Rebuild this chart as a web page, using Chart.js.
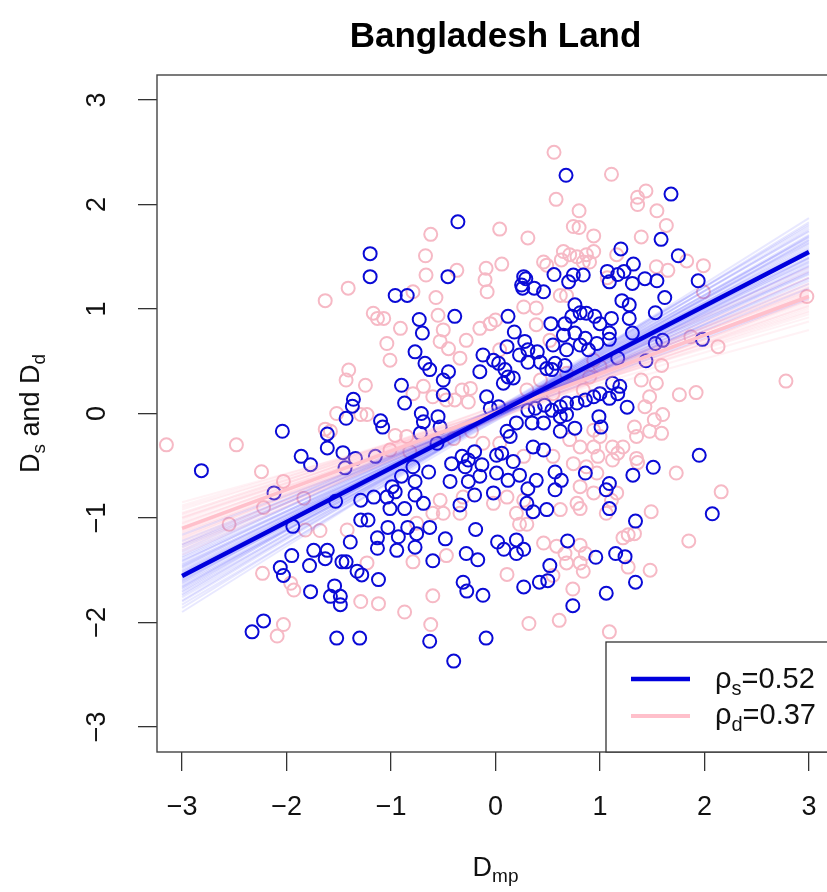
<!DOCTYPE html>
<html><head><meta charset="utf-8">
<script src="https://cdn.jsdelivr.net/npm/chart.js@4/dist/chart.umd.min.js"></script>
<style>
html,body{margin:0;padding:0;overflow:hidden;background:#fff;width:827px;height:892px}
#wrap{position:absolute;left:0;top:0;width:845px;height:892px}
</style>
</head><body><div id="wrap"><canvas id="c" width="845" height="892"></canvas></div>
<script>
// ---------- data ----------
const chartTitle = 'Bangladesh Land';
const xTicks = [-3,-2,-1,0,1,2,3];
const yTicks = [-3,-2,-1,0,1,2,3];
const xRange = [-3.24, 3.24];
const yRange = [-3.24, 3.24];
const lineX = [-3, 3];
const blueLine = [-1.555, 1.545];
const pinkLine = [-1.10, 1.12];
const legendLabels = [['ρ','s','=0.52'],['ρ','d','=0.37']];

const bluePts = [
[-1.20,1.53],[-1.20,1.31],
[0.675,2.28],[-0.36,1.835],[-0.455,1.31],[-0.96,1.13],[-0.845,1.13],[0.27,1.31],[0.29,1.29],[0.25,1.23],[0.26,1.20],[0.37,1.20],[0.46,1.165],[0.56,1.33],[0.70,1.26],[0.745,1.325],[0.84,1.325],[1.07,1.36],
[1.68,2.10],[1.585,1.667],[1.20,1.575],[1.75,1.51],[1.94,1.27],[1.17,1.33],[1.23,1.36],[1.32,1.43],[1.09,1.26],[1.31,1.245],[1.43,1.29],[1.545,1.27],[1.21,1.08],[1.62,1.11],
[-1.36,0.136],[-1.37,0.07],[-1.43,-0.046],[-2.04,-0.17],[-1.61,-0.196],[-1.61,-0.33],[-1.46,-0.375],[-1.86,-0.41],[-1.77,-0.49],[-1.34,-0.43],[-1.44,-0.52],[-2.815,-0.547],[-1.15,-0.41],[-2.12,-0.76],[-1.53,-0.84],[-1.29,-0.83],[-1.165,-0.80],[-1.29,-1.02],[-1.22,-1.02],
[-1.94,-1.08],[-1.13,-1.19],[-1.13,-1.29],[-1.39,-1.23],[-1.95,-1.36],[-2.06,-1.475],[-2.03,-1.55],[-1.74,-1.31],[-1.61,-1.31],[-1.63,-1.39],[-1.78,-1.456],[-1.47,-1.42],[-1.43,-1.42],[-1.325,-1.51],[-1.28,-1.545],[-1.12,-1.59],[-1.77,-1.705],[-1.54,-1.65],[-1.58,-1.75],[-1.485,-1.75],[-1.485,-1.83],[-2.22,-1.985],[-2.33,-2.09],[-1.52,-2.15],[-1.30,-2.15],
[-1.03,-1.09],[-0.93,-1.18],[-0.84,-1.09],[-0.755,-1.15],[-0.63,-1.09],[-0.945,-1.31],[-0.77,-1.28],[-0.48,-1.20],[-0.60,-1.41],[-0.19,-1.11],[-0.28,-1.34],[-0.17,-1.40],[0.02,-1.23],[0.08,-1.30],[0.20,-1.21],[0.20,-1.34],[0.27,-1.30],[0.69,-1.22],[0.96,-1.376],[0.52,-1.456],[0.42,-1.615],[0.50,-1.60],[0.27,-1.66],[-0.31,-1.615],[-0.275,-1.70],[-0.12,-1.74],[-0.63,-2.18],[-0.09,-2.15],[-0.40,-2.37],[0.74,-1.84],[1.06,-1.72],
[1.34,-1.03],[1.15,-1.34],[1.24,-1.37],[1.34,-1.615],
[1.28,1.04],[1.28,0.91],[1.11,0.91],[1.53,0.965],[1.31,0.77],[1.09,0.77],[1.09,0.71],[1.53,0.67],[1.60,0.70],[1.98,0.71],[1.17,0.53],[1.44,0.505],[1.12,0.29],[1.19,0.26],[1.17,0.19],[1.09,0.145],[1.26,0.06],[1.95,-0.40],[1.51,-0.515],[1.315,-0.59],[1.09,-0.67],[1.06,-0.73],[1.09,-0.91],[2.075,-0.96],
[-0.73,0.90],[-0.39,0.93],[-0.70,0.77],[0.12,0.93],[0.18,0.78],[0.53,0.86],[0.665,0.86],[0.73,0.93],[0.81,0.965],[0.87,0.96],[0.95,0.93],[1.0,0.86],[0.76,1.04],[0.65,0.75],[0.76,0.77],[0.86,0.72],[0.81,0.655],[0.89,0.61],[0.97,0.67],[0.28,0.69],[0.40,0.59],[0.55,0.655],[0.68,0.61],[0.31,0.49],[0.43,0.49],[0.54,0.42],[0.57,0.48],[0.665,0.46],[-0.77,0.59],[-0.675,0.48],[-0.63,0.42],[-0.45,0.40],[-0.50,0.32],[-0.90,0.27],[-0.87,0.10],[-0.50,0.18],[-0.12,0.56],[-0.02,0.51],[0.03,0.48],[-0.15,0.40],[0.09,0.42],[0.12,0.35],[0.17,0.34],[0.075,0.29],[0.11,0.64],[0.23,0.56],[0.31,0.61],[0.49,0.43],[-0.085,0.16],[-0.05,0.05],[0.03,0.065],[0.31,0.03],[0.38,0.05],[0.47,0.08],[0.54,0.03],[0.62,0.065],[0.68,0.10],[0.78,0.10],[0.86,0.13],[0.94,0.16],[1.0,0.19],[0.62,-0.03],[0.68,-0.01],[0.76,-0.14],[0.62,-0.17],[0.46,-0.09],[0.35,-0.09],[0.20,-0.09],[0.11,-0.17],[0.14,-0.22],[0.99,-0.03],[1.01,-0.13],[-1.10,-0.07],[-1.08,-0.13],[-0.71,0.0],[-0.69,-0.08],[-0.55,-0.03],[-0.53,-0.13],[-0.72,-0.19],[-0.56,-0.285],[0.36,-0.32],[0.46,-0.35],[-0.42,-0.48],[-0.32,-0.41],[-0.26,-0.445],[-0.29,-0.51],[-0.20,-0.365],[-0.13,-0.49],[-0.15,-0.60],[0.01,-0.40],[0.06,-0.38],[0.17,-0.46],[0.01,-0.57],[0.12,-0.64],[0.23,-0.59],[0.31,-0.72],[0.39,-0.64],[0.57,-0.56],[0.63,-0.64],[0.57,-0.73],[0.86,-0.57],[-0.435,-0.65],[-0.26,-0.65],[-0.20,-0.78],[-0.02,-0.76],[-0.96,-0.75],[-0.77,-0.78],[-0.69,-0.86],[-0.64,-0.56],[-0.79,-0.51],[-0.90,-0.60],[-0.77,-0.65],[-0.99,-0.70],[-1.04,-0.80],[-1.01,-0.91],[-0.87,-0.91],[-0.34,-0.875],[0.30,-0.86],[0.49,-0.92],[0.36,-0.94]
];

const pinkPts = [
[-1.41,1.20],[-1.63,1.08],
[0.56,2.50],[0.58,2.05],[0.80,1.94],[0.745,1.79],[0.80,1.78],[0.94,1.70],[-0.62,1.715],[0.04,1.765],[0.31,1.68],[-0.67,1.51],[-0.665,1.325],[-0.37,1.37],[-0.09,1.39],[0.06,1.43],[-0.10,1.28],[-0.08,1.165],[-0.57,1.11],[-0.79,1.165],[0.65,1.55],[0.71,1.52],[0.78,1.50],[0.87,1.52],[0.94,1.55],[0.84,1.45],[0.90,1.45],[0.46,1.45],[0.49,1.42],[0.63,1.47],[0.68,1.13],[0.62,1.13],
[1.11,2.29],[1.44,2.13],[1.36,2.07],[1.36,2.00],[1.545,1.94],[1.635,1.80],[1.395,1.69],[1.83,1.46],[1.99,1.415],[1.54,1.405],[1.65,1.37],[1.99,1.165],[2.98,1.12],[1.16,1.52],[1.07,1.30],
[-1.17,0.96],[-1.13,0.91],[-1.405,0.416],[-1.43,0.32],[-1.245,0.27],[-1.52,0.0],[-1.29,-0.01],[-1.23,-0.01],[-3.15,-0.30],[-2.48,-0.30],[-1.63,-0.15],[-1.58,-0.17],[-2.24,-0.557],[-2.03,-0.65],[-2.22,-0.90],[-1.835,-0.81],[-2.55,-1.06],
[-1.82,-1.115],[-1.68,-1.12],[-1.42,-1.115],[-2.23,-1.53],[-1.96,-1.625],[-1.93,-1.69],[-1.23,-1.43],[-1.29,-1.80],[-1.12,-1.82],[-2.03,-2.02],[-2.09,-2.13],
[-0.79,-1.42],[-0.47,-1.36],[0.23,-1.06],[0.30,-1.06],[0.46,-1.24],[0.585,-1.27],[0.81,-1.26],[0.86,-1.34],[0.81,-1.43],[0.84,-1.51],[0.665,-1.34],[0.68,-1.43],[0.11,-1.54],[0.55,-1.55],[-0.60,-1.745],[-0.87,-1.90],[-0.62,-2.02],[0.32,-2.01],[0.61,-1.98],[0.74,-1.68],
[1.22,-1.19],[1.27,-1.16],[1.33,-1.15],[1.85,-1.22],[1.27,-1.47],[1.48,-1.50],[1.09,-2.09],
[2.13,0.64],[1.87,0.735],[1.59,0.46],[2.78,0.31],[1.395,0.32],[1.54,0.29],[1.76,0.18],[1.92,0.20],[1.475,0.16],[1.43,0.065],[1.60,-0.01],[1.52,-0.06],[1.33,-0.13],[1.475,-0.17],[1.59,-0.19],[1.35,-0.22],[1.12,-0.32],[1.22,-0.32],[1.17,-0.38],[1.12,-0.445],[1.35,-0.43],[1.73,-0.57],[1.16,-0.76],[1.11,-0.83],[2.16,-0.75],[1.49,-0.94],[1.06,-0.955],[1.36,-0.47],
[-1.07,0.91],[-0.91,0.815],[-1.01,0.51],[-1.04,0.67],[-0.55,0.94],[-0.50,0.80],[-0.45,0.62],[-0.53,0.69],[-0.34,0.53],[-0.32,0.225],[-0.24,0.24],[-0.39,0.13],[-0.26,0.11],[-0.05,0.86],[0.0,0.895],[-0.15,0.815],[0.27,1.02],[0.39,1.01],[0.52,0.70],[0.39,0.85],[-0.79,0.19],[-0.69,0.26],[-0.60,0.16],[-0.47,0.13],[-0.96,-0.21],[-0.85,-0.22],[-1.01,-0.35],[-0.82,-0.365],[-0.40,-0.24],[-0.23,-0.17],[-0.12,-0.285],[0.04,-0.285],[0.27,-0.41],[0.55,-0.41],[0.71,-0.25],[0.81,-0.32],[0.94,-0.32],[0.98,-0.41],[0.745,-0.48],[0.87,-0.51],[0.97,-0.57],[0.81,-0.70],[0.94,-0.76],[0.78,-0.86],[-0.53,-0.83],[-0.50,-0.955],[-0.34,-0.955],[-0.31,-0.80],[-0.02,-0.86],[0.11,-0.80],[0.27,-0.83],[0.20,-0.955],[0.62,-0.92],[0.81,-0.91],[-0.755,-1.05],[-0.60,-0.955],[0.04,0.61],[-0.28,0.70],[0.68,0.385],[0.90,0.35],[0.84,0.225],[0.43,0.32],[0.30,0.225],[0.55,0.19],[0.94,0.51],[1.0,0.45],[0.94,-0.16],[1.0,-0.22]
];

// bootstrap fan lines: fitted y at x=-3 and x=3
const blueFanLeft  = [-1.56,-1.50,-1.62,-1.45,-1.68,-1.40,-1.74,-1.35,-1.80,-1.28,-1.86,-1.22,-1.53,-1.59,-1.47,-1.65,-1.42,-1.71,-1.37,-1.76,-1.31,-1.83,-1.25,-1.90,-1.16,-1.58,-1.52,-1.61,-1.48,-1.66,-1.44,-1.70,-1.38,-1.57,-1.54,-1.63,-1.55,-1.51,-1.60,-1.46,-1.67,-1.41,-1.73,-1.33,-1.79,-1.26];
const blueFanRight = [1.55,1.50,1.60,1.44,1.66,1.38,1.71,1.33,1.77,1.27,1.83,1.20,1.58,1.52,1.53,1.56,1.49,1.62,1.45,1.66,1.40,1.70,1.34,1.87,1.10,1.64,1.46,1.68,1.42,1.74,1.35,1.79,1.30,1.57,1.53,1.49,1.54,1.48,1.63,1.41,1.69,1.36,1.75,1.29,1.81,1.24];
const pinkFanLeft  = [-1.10,-1.05,-1.15,-1.00,-1.20,-0.95,-1.25,-0.90,-1.30,-0.85,-1.35,-1.08,-1.13,-1.02,-1.18,-0.97,-1.23,-0.92,-1.28,-0.88,-1.32,-1.06,-1.14,-1.00,-1.21,-0.96,-1.26,-1.11,-1.09,-1.17,-1.04,-1.12,-0.99,-1.19];
const pinkFanRight = [1.12,1.06,1.18,1.00,1.24,0.95,1.30,0.88,1.36,0.80,1.40,1.16,1.08,1.10,1.13,1.03,1.19,0.98,1.25,0.92,1.30,1.20,1.04,1.14,1.09,1.08,1.15,1.11,1.13,1.22,1.02,1.17,0.97,1.21];

// ---------- styles ----------
const BLUE = '#0a0ad6';
const PINK = '#f6b9c5';
const FONT = '"Liberation Sans", Arial, sans-serif';
const fmt = v => v < 0 ? '\u2212' + Math.abs(v) : String(v);

const datasets = [];
datasets.push({type:'line', data: lineX.map((x,i)=>({x, y: blueLine[i]})), borderColor:'#0000dd', borderWidth:4.5, pointRadius:0, order:0});
datasets.push({type:'line', data: lineX.map((x,i)=>({x, y: pinkLine[i]})), borderColor:'#ffc0cb', borderWidth:3.5, pointRadius:0, order:1});
blueFanLeft.forEach((l,i)=>datasets.push({type:'line', data:[{x:lineX[0],y:l},{x:lineX[1],y:blueFanRight[i]}], borderColor:'rgba(30,30,255,0.10)', borderWidth:2, pointRadius:0, order:2}));
pinkFanLeft.forEach((l,i)=>datasets.push({type:'line', data:[{x:lineX[0],y:l},{x:lineX[1],y:pinkFanRight[i]}], borderColor:'rgba(255,170,185,0.15)', borderWidth:2, pointRadius:0, order:3}));
datasets.push({type:'scatter', data: bluePts.map(p=>({x:p[0],y:p[1]})), borderColor:BLUE, backgroundColor:'rgba(0,0,0,0)', pointRadius:6.5, borderWidth:2, order:4});
datasets.push({type:'scatter', data: pinkPts.map(p=>({x:p[0],y:p[1]})), borderColor:PINK, backgroundColor:'rgba(0,0,0,0)', pointRadius:6.5, borderWidth:2, order:5});

function subText(ctx, parts, sizes, offs, x, y, align){
  let w = 0;
  parts.forEach((p,i)=>{ctx.font = sizes[i]+'px '+FONT; w += ctx.measureText(p).width;});
  let cx = align==='center' ? x - w/2 : x;
  parts.forEach((p,i)=>{ctx.font = sizes[i]+'px '+FONT; ctx.fillText(p, cx, y + offs[i]); cx += ctx.measureText(p).width;});
}

const decor = {
  id:'decor',
  afterDraw(chart){
    const ctx = chart.ctx, a = chart.chartArea, ys = chart.scales.y;
    ctx.save();
    ctx.strokeStyle = '#444'; ctx.lineWidth = 1.4;
    ctx.strokeRect(a.left, a.top, a.right - a.left, a.bottom - a.top);
    ctx.fillStyle = '#000'; ctx.textAlign = 'left'; ctx.textBaseline = 'alphabetic';
    ctx.font = 'bold 35px ' + FONT;
    const tw = ctx.measureText(chartTitle).width;
    ctx.fillText(chartTitle, (a.left + a.right)/2 - tw/2, 47);
    ctx.fillStyle = '#111';
    ctx.font = '27px ' + FONT;
    yTicks.forEach(v=>{
      const py = ys.getPixelForValue(v);
      ctx.save(); ctx.translate(105, py); ctx.rotate(-Math.PI/2);
      const w = ctx.measureText(fmt(v)).width;
      ctx.fillText(fmt(v), -w/2, 0); ctx.restore();
    });
    ctx.save(); ctx.translate(39, (a.top + a.bottom)/2); ctx.rotate(-Math.PI/2);
    subText(ctx, ['D','s',' and ','D','d'], [27,19,27,27,19], [0,6,0,0,6], 0, 0, 'center');
    ctx.restore();
    subText(ctx, ['D','mp'], [27,19], [0,6], (a.left + a.right)/2, 876, 'center');
    const lx = 606, ly = 642;
    ctx.fillStyle = '#fff'; ctx.fillRect(lx, ly, 260, a.bottom - ly);
    ctx.strokeStyle = '#333'; ctx.lineWidth = 1.3; ctx.strokeRect(lx, ly, 260, a.bottom - ly);
    ctx.lineWidth = 4.5; ctx.strokeStyle = '#0000dd';
    ctx.beginPath(); ctx.moveTo(631, 679); ctx.lineTo(690, 679); ctx.stroke();
    ctx.lineWidth = 4; ctx.strokeStyle = '#ffc0cb';
    ctx.beginPath(); ctx.moveTo(631, 716); ctx.lineTo(690, 716); ctx.stroke();
    ctx.fillStyle = '#111';
    subText(ctx, legendLabels[0], [29,20,29], [0,7,0], 715, 688, 'left');
    subText(ctx, legendLabels[1], [29,20,29], [0,7,0], 715, 724, 'left');
    ctx.restore();
  }
};

new Chart(document.getElementById('c'), {
  type:'scatter',
  data:{datasets},
  options:{
    responsive:false, animation:false, events:[],
    layout:{padding:{top:75, right:11, left:0, bottom:0}},
    plugins:{legend:{display:false}, tooltip:{enabled:false}, title:{display:false}},
    scales:{
      x:{type:'linear', min:xRange[0], max:xRange[1],
        afterBuildTicks:s=>{ s.ticks = xTicks.map(v=>({value:v})); },
        afterFit:s=>{ s.height = 140; },
        grid:{drawOnChartArea:false, drawTicks:true, tickLength:19, color:'#333', lineWidth:1.3},
        border:{display:false},
        ticks:{font:{size:27, family:FONT}, color:'#111', padding:20, maxRotation:0, minRotation:0, autoSkip:false, callback:v=>fmt(v)}
      },
      y:{type:'linear', min:yRange[0], max:yRange[1],
        afterBuildTicks:s=>{ s.ticks = yTicks.map(v=>({value:v})); },
        afterFit:s=>{ s.width = 157; },
        grid:{drawOnChartArea:false, drawTicks:true, tickLength:19, color:'#333', lineWidth:1.3},
        border:{display:false},
        ticks:{display:false}
      }
    }
  },
  plugins:[decor]
});
</script>
</body></html>
